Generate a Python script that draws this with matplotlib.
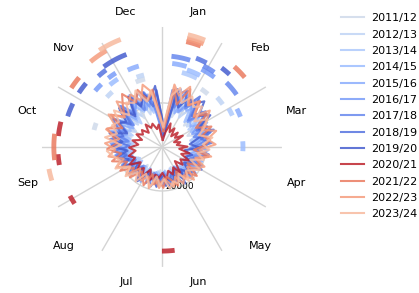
import numpy as np
import matplotlib
matplotlib.use("Agg")
from matplotlib import pyplot as plt

seasons = ["2011/12", "2012/13", "2013/14", "2014/15", "2015/16", "2016/17", "2017/18",
           "2018/19", "2019/20", "2020/21", "2021/22", "2022/23", "2023/24"]
months = ["Jan", "Feb", "Mar", "Apr", "May", "Jun", "Jul", "Aug", "Sep", "Oct", "Nov", "Dec"]
# day of January on which the first weekly count starts, per season
first_day = [2, 7, 6, 5, 4, 2, 1, 7, 6, 4, 3, 2, 1]

# weekly values, week 1 of January first
weekly = [
    [4500, 21000, 14200, 23800, 17500, 22100, 13900, 21500, 16200, 12600, 19800, 14100,
     18500, 10800, 17200, 12400, 16600, 9800, 15900, 13800, 11200, 15400, 9900, 15100,
     12300, 14800, 10600, 15600, 11900, 14300, 16200, 10400, 15800, 12100, 17000, 11600,
     18100, 13300, 19200, 12800, 20400, 14500, 21300, 13700, 22400, 16100, 23300, 15200,
     23900, 17400, 22100, 9500],
    [6200, 16800, 24600, 15300, 22400, 18900, 14600, 23100, 15800, 20600, 13400, 19100,
     12200, 19600, 14900, 11300, 17800, 12700, 16900, 10900, 16300, 12800, 15700, 11400,
     16100, 13200, 11100, 15900, 12400, 16500, 11300, 15200, 13600, 17400, 11800, 16600,
     13100, 19400, 12600, 21100, 15300, 19800, 13900, 23200, 14800, 21800, 16700, 24700,
     15600, 22900, 18300, 11200],
    [3900, 23200, 17100, 21400, 25900, 16800, 22700, 14300, 20800, 17600, 13100, 21300,
     14600, 19200, 11700, 18400, 14100, 16300, 10600, 17500, 13200, 15100, 10300, 16400,
     12900, 15300, 11500, 16800, 13600, 10900, 15700, 12200, 17300, 14400, 11100, 18200,
     14700, 20300, 16100, 12900, 21700, 14200, 23600, 16900, 20100, 14100, 24900, 17800,
     22600, 15900, 25200, 8800],
    [7300, 19700, 25800, 18400, 23600, 15200, 24400, 17900, 14800, 22200, 15600, 20400,
     13300, 18100, 15400, 12100, 19300, 13500, 15800, 11800, 17200, 13900, 12200, 16900,
     10800, 15600, 13700, 12400, 16700, 11200, 17100, 13800, 15200, 10900, 16900, 14600,
     19600, 13600, 17800, 21900, 14600, 22800, 15900, 19300, 24100, 16400, 22500, 18700,
     25800, 17100, 23400, 12300],
    [5100, 25100, 16200, 27200, 19800, 23900, 17300, 15900, 23400, 16400, 21500, 13600,
     20600, 15900, 13200, 19500, 15100, 17400, 12300, 18700, 11600, 16200, 14300, 17600,
     12600, 16900, 14200, 11700, 17400, 13500, 15900, 11400, 18300, 13200, 16400, 12800,
     20300, 15600, 22300, 14400, 20100, 16800, 23700, 15400, 25300, 17300, 21900, 26200,
     18200, 24700, 17300, 10600],
    [8400, 22600, 27600, 17300, 24900, 21400, 16200, 25300, 18600, 14900, 22900, 17800,
     14200, 21100, 16600, 12800, 20200, 16100, 13400, 19100, 14700, 11900, 17900, 15200,
     13800, 17600, 12500, 16400, 14900, 11800, 18600, 14500, 12700, 17700, 15300, 19400,
     14100, 21600, 17200, 23400, 15800, 21200, 18400, 24600, 16300, 26400, 19600, 22800,
     27100, 19200, 24300, 12100],
    [6100, 26300, 18700, 28100, 20400, 26900, 16900, 24800, 19400, 22600, 15100, 21800,
     16800, 12600, 21400, 14900, 18700, 11200, 19300, 15100, 17100, 10400, 17600, 13300,
     16800, 11500, 17400, 14100, 12300, 17900, 13100, 18900, 11800, 17200, 14900, 20100,
     13900, 21200, 16200, 22700, 15300, 24900, 17400, 23100, 16100, 26800, 19100, 27800,
     18300, 26100, 20400, 9600],
    [7600, 24400, 27800, 21300, 28700, 19500, 25600, 22400, 17300, 24800, 18100, 22700,
     15400, 21600, 17900, 13700, 20800, 15700, 18900, 13100, 19700, 16200, 12400, 18400,
     14600, 17300, 12900, 18600, 15600, 13400, 18300, 12800, 19400, 16700, 13300, 20600,
     16400, 22300, 14800, 23900, 18200, 21400, 25600, 17600, 24200, 19300, 27100, 21200,
     26400, 18800, 25900, 11700],
    [5400, 27200, 19300, 25900, 24100, 28300, 21700, 26300, 18500, 23400, 16200, 12700,
     17500, 10400, 14200, 11600, 15900, 12300, 16700, 13500, 17400, 11900, 16100, 14700,
     17800, 13100, 18300, 14200, 16600, 12600, 19100, 15200, 17800, 12500, 19800, 16100,
     21400, 15700, 23100, 18100, 24600, 16900, 22400, 19800, 26300, 18400, 27600, 20600,
     25400, 22300, 27900, 13100],
    [3200, 6900, 11400, 7600, 10200, 6400, 9700, 7200, 10800, 5900, 8600, 6800,
     11600, 7900, 12800, 9300, 13600, 10100, 12400, 8700, 14300, 10600, 13400, 11200,
     15100, 11800, 14200, 12900, 15800, 11400, 16400, 12600, 15300, 11900, 16800, 13200,
     15600, 12100, 14900, 10800, 13700, 9600, 12900, 10300, 11900, 8800, 12600, 9900,
     11400, 8400, 10300, 4600],
    [7200, 26800, 20400, 29300, 22600, 27100, 19800, 25400, 17700, 24300, 18900, 22100,
     19200, 14600, 21700, 16300, 19400, 13800, 20600, 15700, 17900, 12900, 19100, 15600,
     13700, 18600, 15200, 17400, 13100, 19300, 16100, 14400, 20100, 15800, 21800, 17200,
     23600, 18700, 24900, 20400, 22600, 26300, 19900, 27400, 21800, 25600, 30100, 23400,
     28200, 22100, 26400, 13900],
    [8900, 28900, 24600, 30200, 22300, 26600, 20200, 27300, 23400, 19600, 25700, 20900,
     24400, 17100, 22800, 15900, 21300, 18400, 14600, 20800, 16200, 19300, 14800, 18900,
     16100, 14200, 18700, 15300, 19600, 14700, 17900, 16800, 13900, 20400, 17300, 22600,
     18200, 24700, 21300, 25900, 19700, 26600, 23200, 28400, 21600, 29200, 24600, 27700,
     23100, 29600, 25300, 12400],
    [9400, 23700, 28100, 21900, 26700, 23100, 25900, 18800, 24200, 21100, 17600, 23300,
     18700, 21600, 16400, 19900, 14100, 20300, 17200, 15300, 19700, 14300, 18300, 16500,
     19200, 14900, 17800, 13600, 18900, 16300, 14100, 19700, 15900, 21200, 16800, 23300,
     19900, 22400, 25100, 18600, 26200, 21300, 24700, 22600, 27400, 20700, 25900, 23600,
     28300, 21700, 26100, 14600],
]

# outer dashes: ring radius per season and spans in degrees (0 = 1 Jan, clockwise)
ring_r = [31800, 33700, 35000, 36800, 38200, 39600, 41400, 43200, 45000, 47300, 49100, 50500, 52300]
spans = [
    [(338, 346), (284, 290), (34, 41)],
    [(48, 55), (312, 318), (340, 346)],
    [(15, 27), (60, 66)],
    [(86, 93), (18, 28), (320, 327)],
    [(336, 344), (63, 69), (7, 17)],
    [(310, 316), (27, 37), (322, 328)],
    [(6, 18), (45, 55), (27, 35)],
    [(21, 28), (318, 324)],
    [(324, 339), (37, 43), (303, 310), (288, 296)],
    [(276, 284), (260, 266), (237, 242), (173, 180)],
    [(13, 21), (42, 50), (263, 277), (303, 310)],
    [(13, 22), (320, 330)],
    [(13, 22), (327, 339), (253, 259)],
]

cmap = plt.get_cmap("coolwarm")
colors = list(cmap(np.linspace(0.45, 0.04, 9))) + list(cmap([0.97, 0.82, 0.74, 0.66]))

fig = plt.figure(figsize=(4.19, 2.93), dpi=100)
ax = fig.add_axes([0.1, 0.089, 0.573, 0.819], projection="polar")
ax.set_theta_zero_location("N")
ax.set_theta_direction(-1)

for i, s in enumerate(seasons):
    days = np.arange(52) * 7 + first_day[i] - 1 + 3.5
    theta = np.append(days, days[0] + 365) / 365 * 2 * np.pi
    vals = weekly[i] + weekly[i][:1]
    ax.plot(theta, vals, color=colors[i], lw=1.5, alpha=0.85, label=s)
    for a, b in spans[i]:
        t = np.deg2rad(np.linspace(a, b, 20))
        ax.plot(t, np.full(t.size, ring_r[i]), color=colors[i], lw=3.5,
                alpha=0.85, solid_capstyle="butt")

ax.set_ylim(0, 54500)
ax.set_yticks([20000])
ax.set_yticklabels(["20000"], fontsize=6.5)
ax.set_rlabel_position(176)

ax.set_xticks(np.deg2rad(np.arange(15, 360, 30)))
ax.set_xticklabels(months, fontsize=8)
ax.set_xticks(np.deg2rad(np.arange(0, 360, 30)), minor=True)
ax.xaxis.grid(False, which="major")
ax.xaxis.grid(True, which="minor", color="#d4d4d4", lw=1)
ax.yaxis.grid(True, color="#d4d4d4", lw=1)
ax.tick_params(axis="x", which="both", length=0, pad=7)
ax.spines["polar"].set_visible(False)

fig.legend(loc="upper left", bbox_to_anchor=(0.815, 0.955), frameon=False, fontsize=8,
           borderaxespad=0, borderpad=0, labelspacing=0.57, handlelength=2.0,
           handletextpad=0.7)

fig.savefig("out.png", dpi=100)
